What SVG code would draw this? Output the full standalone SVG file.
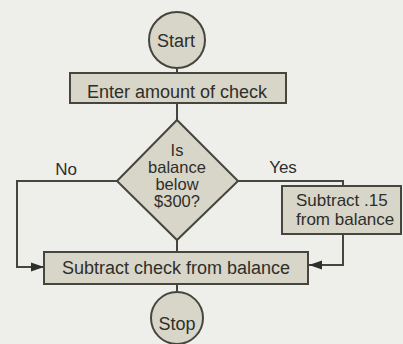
<svg xmlns="http://www.w3.org/2000/svg" width="403" height="344" viewBox="0 0 403 344">
<defs>
<style>
.shape{fill:#d8d6c8;stroke:#46463f;stroke-width:2}
.ln{fill:none;stroke:#46463f;stroke-width:2}
text{font-family:"Liberation Sans",Arial,sans-serif;fill:#2e2e2b}
.c{text-anchor:middle}
</style>
<marker id="arr" markerWidth="14" markerHeight="10" refX="13" refY="5" orient="auto" markerUnits="userSpaceOnUse">
<path d="M0,0.5 L13,5 L0,9.5 Z" fill="#2e2e2b"/>
</marker>
</defs>
<rect width="403" height="344" fill="#eeeeeb"/>
<g id="connectors">
<line class="ln" x1="177" y1="68" x2="177" y2="73"/>
<line class="ln" x1="177" y1="103" x2="177" y2="120"/>
<line class="ln" x1="177" y1="240" x2="177" y2="252"/>
<line class="ln" x1="177" y1="284" x2="177" y2="292"/>
<path class="ln" d="M117,181 H17 V267 H44" marker-end="url(#arr)"/>
<path class="ln" d="M238,181 H343 V186"/>
<path class="ln" d="M343,234 V265 H309" marker-end="url(#arr)"/>
<text x="66" y="175" class="c" font-size="17">No</text>
<text x="283" y="173" class="c" font-size="17">Yes</text>
</g>
<g id="start">
<circle class="shape" cx="177" cy="40" r="28"/>
<text x="176" y="47" class="c" font-size="18">Start</text>
</g>
<g id="enter">
<rect class="shape" x="70" y="73" width="216" height="30"/>
<text x="177" y="98" class="c" font-size="18">Enter amount of check</text>
</g>
<g id="decision">
<polygon class="shape" points="177,120 238,181 177,240 117,181"/>
<text class="c" font-size="16.5"><tspan x="177" y="156">Is</tspan><tspan x="177" y="173">balance</tspan><tspan x="177" y="190">below</tspan><tspan x="177" y="207">$300?</tspan></text>
</g>
<g id="fee">
<rect class="shape" x="282" y="186" width="119" height="48"/>
<text font-size="17"><tspan x="296" y="206">Subtract .15</tspan><tspan x="296" y="225">from balance</tspan></text>
</g>
<g id="subtract">
<rect class="shape" x="44" y="252" width="264" height="32"/>
<text x="176" y="274" class="c" font-size="18">Subtract check from balance</text>
</g>
<g id="stop">
<circle class="shape" cx="177" cy="318" r="26"/>
<text x="177" y="330" class="c" font-size="18">Stop</text>
</g>
</svg>
